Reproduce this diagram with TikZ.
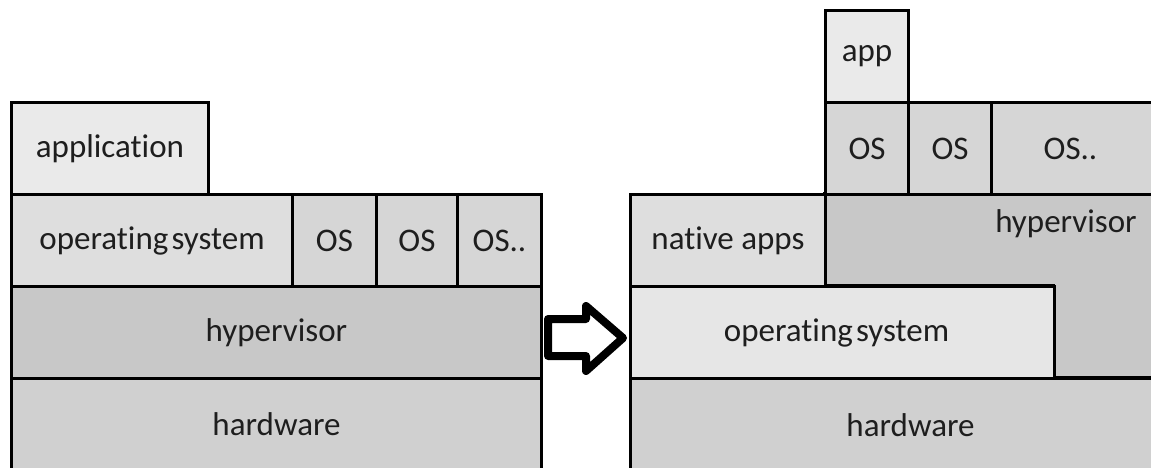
\documentclass[tikz,border=0pt]{standalone}
\usepackage{fontspec}
\setmainfont{Carlito}[Ligatures=NoCommon]
\definecolor{pale}{HTML}{EAEAEA}
\definecolor{light}{HTML}{DEDEDE}
\definecolor{mid}{HTML}{D6D6D6}
\definecolor{hwgray}{HTML}{D0D0D0}
\definecolor{hypgray}{HTML}{C8C8C8}
\definecolor{ink}{HTML}{1E1E1E}
\begin{document}
\begin{tikzpicture}[x=1pt,y=-1pt,
  layer/.style={draw=black, line width=3pt, inner sep=0pt, anchor=north west,
    font=\fontsize{33}{36}\selectfont, text=ink},
  lbl/.style={inner sep=0pt, font=\fontsize{33}{36}\selectfont, text=ink}]
\useasboundingbox (0,0) rectangle (1151,468);

% ---------- left stack ----------
\node[layer, fill=pale,   minimum width=197pt, minimum height=92pt] (lapp) at (10,101) {application};
\node[layer, fill=light,  minimum width=281pt, minimum height=92pt] (los)  at (10,193) {operating\hspace{0.1em}system};
\node[layer, fill=mid,    minimum width=84pt,  minimum height=92pt] (los1) at (291,193) {OS};
\node[layer, fill=mid,    minimum width=81pt,  minimum height=92pt] (los2) at (375,193) {OS};
\node[layer, fill=mid,    minimum width=84pt,  minimum height=92pt] (los3) at (456,193) {OS..};
\node[layer, fill=hypgray,minimum width=530pt, minimum height=92pt] (lhyp) at (10,285) {hypervisor};
\node[layer, fill=hwgray, minimum width=530pt, minimum height=92pt] (lhw)  at (10,377) {hardware};

% ---------- block arrow ----------
\draw[line width=8pt, line join=round, fill=white]
  (548,319) -- (586,319) -- (586,306) -- (623,338) -- (586,371) -- (586,356) -- (548,356) -- cycle;

% ---------- right stack ----------
% hypervisor: L-shaped region behind the other layers
\filldraw[line width=3pt, fill=hypgray]
  (824,193) -- (1170,193) -- (1170,377) -- (1053,377) -- (1053,285) -- (824,285) -- cycle;
\node[lbl] (rhyp) at (1066,224) {hypervisor};

\node[layer, fill=pale,  minimum width=83pt,  minimum height=92pt] (rapp) at (824,9) {app};
\node[layer, fill=mid,   minimum width=83pt,  minimum height=92pt] (ros1) at (824,101) {OS};
\node[layer, fill=mid,   minimum width=83pt,  minimum height=92pt] (ros2) at (907,101) {OS};
\node[layer, fill=mid,   minimum width=180pt, minimum height=92pt] (ros3) at (990,101) {\hspace*{-22pt}OS..};
\node[layer, fill=light, minimum width=195pt, minimum height=92pt] (rnat) at (629,193) {native apps};
\node[layer, fill=pale!70!light, minimum width=424pt, minimum height=92pt] (ros)  at (629,285) {operating\hspace{0.1em}system\hspace*{12pt}};
\node[layer, fill=hwgray,minimum width=541pt, minimum height=100pt] (rhw)  at (629,377) {\raisebox{6pt}{hardware}\hspace*{-19pt}};
\end{tikzpicture}
\end{document}
